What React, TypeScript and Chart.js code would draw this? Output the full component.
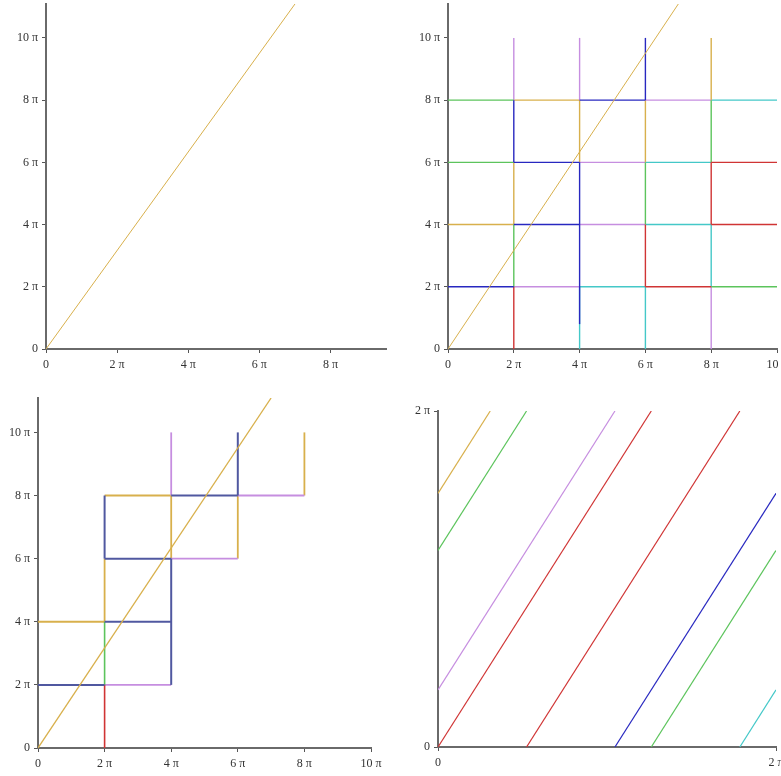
import React, { useEffect, useRef } from "react";
import { Chart, registerables } from "chart.js";
Chart.register(...registerables);

// All values are in units of π
const DIAG_X = [0, 7];
const DIAG_Y = [0, 11.09];

const TICKS_P1_X = [0, 2, 4, 6, 8];
const TICKS_FULL = [0, 2, 4, 6, 8, 10];
const TICKS_TORUS = [0, 2];

type Seg = [number, number, number, number]; // x0, y0, x1, y1

// Panel 2: lattice segments by colour
const P2_BLUE: Seg[] = [[4, 8, 6, 8], [2, 6, 4, 6], [2, 4, 4, 4], [0, 2, 2, 2], [2, 6, 2, 8], [4, 0.8, 4, 6], [6, 8, 6, 10]];
const P2_RED: Seg[] = [[8, 6, 10, 6], [8, 4, 10, 4], [6, 2, 8, 2], [2, 0, 2, 2], [6, 2, 6, 4], [8, 4, 8, 6]];
const P2_GREEN: Seg[] = [[0, 8, 2, 8], [0, 6, 2, 6], [8, 2, 10, 2], [2, 2, 2, 4], [6, 4, 6, 6], [8, 6, 8, 8]];
const P2_PURPLE: Seg[] = [[6, 8, 8, 8], [4, 6, 6, 6], [4, 4, 6, 4], [2, 2, 4, 2], [2, 8, 2, 10], [4, 8, 4, 10], [8, 0, 8, 2]];
const P2_CYAN: Seg[] = [[8, 8, 10, 8], [6, 6, 8, 6], [6, 4, 8, 4], [4, 2, 6, 2], [4, 0, 4, 2], [6, 0, 6, 2], [8, 2, 8, 4]];
const P2_YELLOW: Seg[] = [[2, 8, 4, 8], [0, 4, 2, 4], [2, 4, 2, 6], [4, 6, 4, 8], [6, 6, 6, 8], [8, 8, 8, 10]];

// Panel 3: staircase segments
const P3_BLUE: Seg[] = [[0, 2, 2, 2], [2, 4, 4, 4], [4, 2, 4, 6], [2, 6, 4, 6], [2, 6, 2, 8], [4, 8, 6, 8], [6, 8, 6, 10]];
const P3_RED: Seg[] = [[2, 0, 2, 2]];
const P3_GREEN: Seg[] = [[2, 2, 2, 4]];
const P3_PURPLE: Seg[] = [[2, 2, 4, 2], [4, 6, 6, 6], [4, 8, 4, 10], [6, 8, 8, 8]];
const P3_YELLOW: Seg[] = [[0, 4, 2, 4], [2, 4, 2, 6], [2, 8, 4, 8], [4, 6, 4, 8], [6, 6, 6, 8], [8, 8, 8, 10]];

// Panel 4: trajectory folded onto [0, 2π]²
const P4_RED: Seg[] = [[0, 0, 1.262, 2], [0.524, 0, 1.786, 2]];
const P4_GREEN: Seg[] = [[1.262, 0, 2, 1.17], [0, 1.17, 0.524, 2]];
const P4_CYAN: Seg[] = [[1.786, 0, 2, 0.34]];
const P4_PURPLE: Seg[] = [[0, 0.34, 1.047, 2]];
const P4_BLUE: Seg[] = [[1.047, 0, 2, 1.51]];
const P4_YELLOW: Seg[] = [[0, 1.51, 0.309, 2]];

const C_YELLOW = "#d8b04c";
const C_RED = "#d03434";
const C_GREEN = "#5cc45c";
const C_BLUE = "#2828c0";
const C_BLUE_DARK = "#5058a0";
const C_PURPLE = "#c68ee0";
const C_CYAN = "#44c8c8";

function segs(list: Seg[], color: string, width: number) {
  return list.map(([x0, y0, x1, y1]) => ({
    data: [{ x: x0, y: y0 }, { x: x1, y: y1 }],
    borderColor: color,
    borderWidth: width,
    showLine: true,
    pointRadius: 0,
    fill: false,
  }));
}

function diag(color: string, width: number) {
  return {
    data: DIAG_X.map((x, i) => ({ x, y: DIAG_Y[i] })),
    borderColor: color,
    borderWidth: width,
    showLine: true,
    pointRadius: 0,
    fill: false,
  };
}

const fmt = (v: number) => (v === 0 ? "0" : `${v} \u03c0`);

function axis(min: number, max: number, ticks: number[], isX: boolean, size: number) {
  return {
    type: "linear" as const,
    min,
    max,
    afterBuildTicks: (s: any) => {
      s.ticks = ticks.map((v) => ({ value: v }));
    },
    afterFit: (s: any) => {
      if (isX) {
        s.height = size;
        s.paddingLeft = 0;
        s.paddingRight = 0;
      } else {
        s.width = size;
        s.paddingTop = 0;
        s.paddingBottom = 0;
      }
    },
    grid: { drawOnChartArea: false, drawTicks: true, tickLength: 4, color: "#555", lineWidth: 1 },
    border: { display: true, color: "#6a6a6a", width: 2 },
    ticks: {
      callback: (v: any) => fmt(Number(v)),
      font: { family: "'Liberation Serif', 'Times New Roman', serif", size: 12 },
      color: "#333",
      padding: isX ? 5 : 4,
      maxRotation: 0,
      autoSkip: false,
    },
  };
}

type PanelCfg = {
  left: number;
  top: number;
  w: number;
  h: number;
  datasets: any[];
  xMax: number;
  yMax: number;
  xTicks: number[];
  yTicks: number[];
  yAxisW: number;
  xAxisH: number;
  padTop: number;
  padRight: number;
};

function Panel({ cfg }: { cfg: PanelCfg }) {
  const ref = useRef<HTMLCanvasElement | null>(null);
  useEffect(() => {
    if (!ref.current) return;
    const chart = new Chart(ref.current, {
      type: "scatter",
      data: { datasets: cfg.datasets },
      options: {
        animation: false,
        responsive: false,
        maintainAspectRatio: false,
        layout: { padding: { left: 0, right: cfg.padRight, top: cfg.padTop, bottom: 0 } },
        plugins: { legend: { display: false }, tooltip: { enabled: false } },
        scales: {
          x: axis(0, cfg.xMax, cfg.xTicks, true, cfg.xAxisH),
          y: axis(0, cfg.yMax, cfg.yTicks, false, cfg.yAxisW),
        },
      } as any,
    });
    return () => chart.destroy();
  }, []);
  return (
    <canvas
      ref={ref}
      width={cfg.w}
      height={cfg.h}
      style={{ position: "absolute", left: cfg.left, top: cfg.top, width: cfg.w, height: cfg.h }}
    />
  );
}

const panels: PanelCfg[] = [
  {
    left: 0, top: 0, w: 390, h: 385,
    datasets: [diag(C_YELLOW, 1)],
    xMax: 9.56, yMax: 11.09, xTicks: TICKS_P1_X, yTicks: TICKS_FULL,
    yAxisW: 46, xAxisH: 36, padTop: 4, padRight: 4,
  },
  {
    left: 390, top: 0, w: 430, h: 385,
    datasets: [
      diag(C_YELLOW, 1),
      ...segs(P2_BLUE, C_BLUE, 1.4),
      ...segs(P2_RED, C_RED, 1.4),
      ...segs(P2_GREEN, C_GREEN, 1.4),
      ...segs(P2_PURPLE, C_PURPLE, 1.4),
      ...segs(P2_YELLOW, C_YELLOW, 1.4),
      ...segs(P2_CYAN, C_CYAN, 1.4),
    ],
    xMax: 10, yMax: 11.09, xTicks: TICKS_FULL, yTicks: TICKS_FULL,
    yAxisW: 58, xAxisH: 36, padTop: 4, padRight: 43,
  },
  {
    left: 0, top: 390, w: 390, h: 386,
    datasets: [
      diag(C_YELLOW, 1.3),
      ...segs(P3_BLUE, C_BLUE_DARK, 2),
      ...segs(P3_RED, C_RED, 1.6),
      ...segs(P3_GREEN, C_GREEN, 1.6),
      ...segs(P3_PURPLE, C_PURPLE, 1.8),
      ...segs(P3_YELLOW, C_YELLOW, 1.8),
    ],
    xMax: 10, yMax: 11.09, xTicks: TICKS_FULL, yTicks: TICKS_FULL,
    yAxisW: 38, xAxisH: 28, padTop: 8, padRight: 19,
  },
  {
    left: 390, top: 390, w: 430, h: 386,
    datasets: [
      ...segs(P4_BLUE, C_BLUE, 1.2),
      ...segs(P4_RED, C_RED, 1.2),
      ...segs(P4_GREEN, C_GREEN, 1.2),
      ...segs(P4_PURPLE, C_PURPLE, 1.2),
      ...segs(P4_YELLOW, C_YELLOW, 1.2),
      ...segs(P4_CYAN, C_CYAN, 1.2),
    ],
    xMax: 2, yMax: 2, xTicks: TICKS_TORUS, yTicks: TICKS_TORUS,
    yAxisW: 48, xAxisH: 29, padTop: 21, padRight: 44,
  },
];

export default function App() {
  return (
    <div
      style={{
        position: "absolute",
        left: 0,
        top: 0,
        width: 781,
        height: 776,
        overflow: "hidden",
        background: "#fff",
      }}
    >
      {panels.map((p, i) => (
        <Panel key={i} cfg={p} />
      ))}
    </div>
  );
}
